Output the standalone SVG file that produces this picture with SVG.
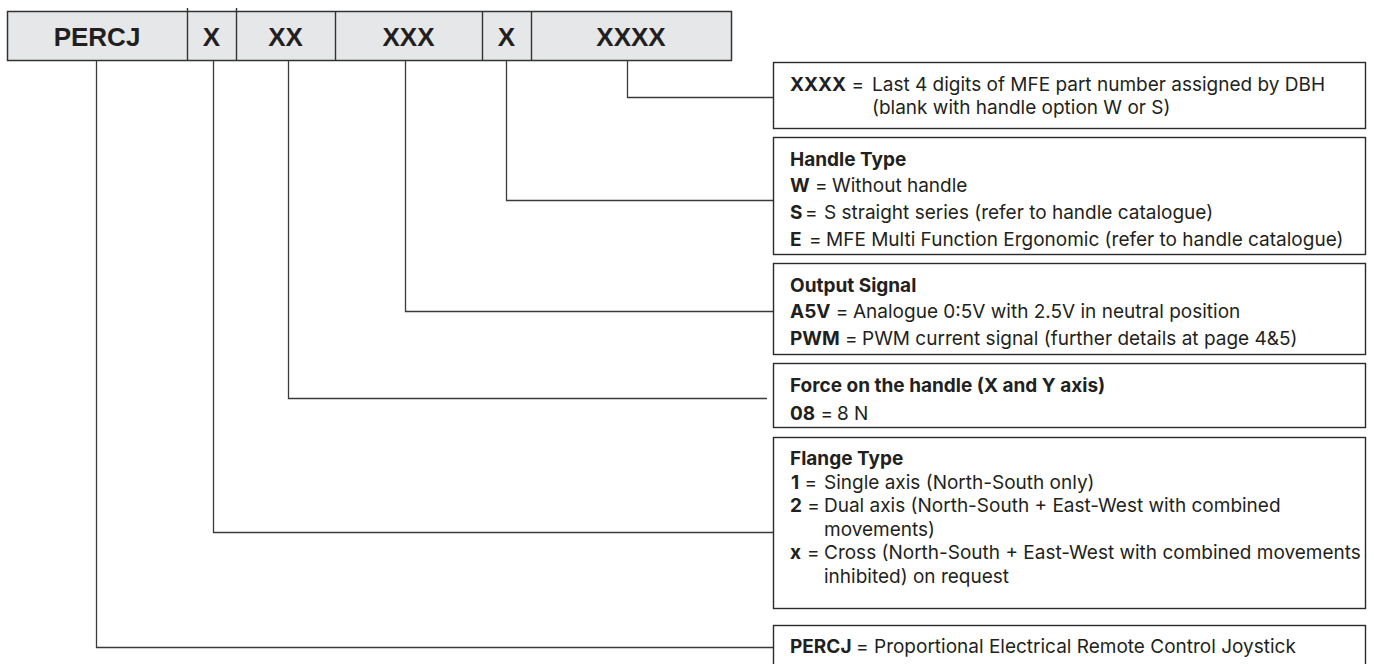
<svg xmlns="http://www.w3.org/2000/svg" width="1374" height="664" viewBox="0 0 1374 664">
<style>
.bar{fill:#e6e7e8;stroke:#333;stroke-width:1.5}
.div{stroke:#333;stroke-width:1.4;fill:none}
.hd{font-family:"Liberation Sans",Arial,sans-serif;font-weight:bold;font-size:26px;fill:#231f20;text-anchor:middle}
.box{fill:#fff;stroke:#2b2b2b;stroke-width:1.4}
.t{font-family:Inter,"Liberation Sans",Arial,sans-serif;font-size:19px;fill:#231f20}
.b{font-weight:bold}
.con{stroke:#3a3a3a;stroke-width:1.3;fill:none}
</style>
<rect width="1374" height="664" fill="#fff"/>
<g id="code-bar">
<rect class="bar" x="7.5" y="11.5" width="724" height="49"/>
<path class="div" d="M187.5 8V60.5M236.5 8V60.5M335.5 11.5V60.5M482.5 11.5V60.5M531.5 11.5V60.5"/>
<text class="hd" x="97" y="46">PERCJ</text>
<text class="hd" x="211.5" y="46">X</text>
<text class="hd" x="285.5" y="46">XX</text>
<text class="hd" x="408.5" y="46">XXX</text>
<text class="hd" x="506.5" y="46">X</text>
<text class="hd" x="631" y="46">XXXX</text>
</g>
<g id="connectors">
<path class="con" d="M627.5 60.5V97.5H773.5"/>
<path class="con" d="M506.5 60.5V200.5H773.5"/>
<path class="con" d="M405.5 60.5V311.5H773.5"/>
<path class="con" d="M288.5 60.5V398.5H767"/>
<path class="con" d="M213.5 60.5V532.5H773.5"/>
<path class="con" d="M96.5 60.5V647.5H773.5"/>
</g>
<g id="box-xxxx">
<rect class="box" x="773.5" y="62.5" width="592" height="66"/>
<text class="t" y="91"><tspan class="b" x="790">XXXX</tspan><tspan> =</tspan><tspan x="872">Last 4 digits of MFE part number assigned by DBH</tspan></text>
<text class="t" x="872" y="114">(blank with handle option W or S)</text>
</g>
<g id="box-handle">
<rect class="box" x="773.5" y="137.5" width="592" height="117"/>
<text class="t b" x="790" y="166">Handle Type</text>
<text class="t" y="192"><tspan class="b" x="790">W</tspan><tspan> =</tspan><tspan x="832">Without handle</tspan></text>
<text class="t" y="219"><tspan class="b" x="790">S</tspan><tspan x="805">=</tspan><tspan x="824">S straight series (refer to handle catalogue)</tspan></text>
<text class="t" y="246"><tspan class="b" x="790">E</tspan><tspan x="809">=</tspan><tspan x="826">MFE Multi Function Ergonomic (refer to handle catalogue)</tspan></text>
</g>
<g id="box-output">
<rect class="box" x="773.5" y="263.5" width="592" height="91"/>
<text class="t b" x="790" y="292">Output Signal</text>
<text class="t" y="318"><tspan class="b" x="790">A5V</tspan><tspan> =</tspan><tspan x="853">Analogue 0:5V with 2.5V in neutral position</tspan></text>
<text class="t" y="345"><tspan class="b" x="790">PWM</tspan><tspan> =</tspan><tspan x="862">PWM current signal (further details at page 4&amp;5)</tspan></text>
</g>
<g id="box-force">
<rect class="box" x="773.5" y="363.5" width="592" height="64"/>
<text class="t b" x="790" y="392">Force on the handle (X and Y axis)</text>
<text class="t" y="420"><tspan class="b" x="790">08</tspan><tspan> =</tspan><tspan x="837">8 N</tspan></text>
</g>
<g id="box-flange">
<rect class="box" x="773.5" y="437.5" width="592" height="171"/>
<text class="t b" x="790" y="465">Flange Type</text>
<text class="t" y="488.5"><tspan class="b" x="791">1</tspan><tspan> =</tspan><tspan x="824">Single axis (North-South only)</tspan></text>
<text class="t" y="512"><tspan class="b" x="790">2</tspan><tspan> =</tspan><tspan x="824">Dual axis (North-South + East-West with combined</tspan></text>
<text class="t" x="824" y="535.5">movements)</text>
<text class="t" y="559"><tspan class="b" x="790">x</tspan><tspan x="807">=</tspan><tspan x="824">Cross (North-South + East-West with combined movements</tspan></text>
<text class="t" x="824" y="582.5">inhibited) on request</text>
</g>
<g id="box-percj">
<rect class="box" x="773.5" y="625.5" width="592" height="50"/>
<text class="t" y="653"><tspan class="b" x="790">PERCJ</tspan><tspan x="856">=</tspan><tspan x="874">Proportional Electrical Remote Control Joystick</tspan></text>
</g>
</svg>
